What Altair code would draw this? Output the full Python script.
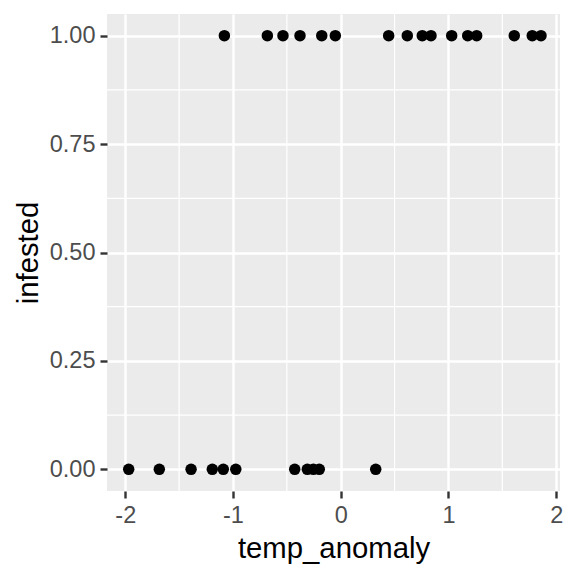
import altair as alt
import pandas as pd

temp_anomaly = [-1.080, -0.681, -0.536, -0.378, -0.176, -0.050, 0.445, 0.618, 0.757, 0.838,
                1.030, 1.179, 1.262, 1.611, 1.778, 1.859,
                -1.968, -1.684, -1.389, -1.192, -1.090, -0.974, -0.427, -0.310, -0.254, -0.199, 0.325]
infested = [1] * 16 + [0] * 11

x_major = [-2, -1, 0, 1, 2]
x_minor = [-1.5, -0.5, 0.5, 1.5]
y_major = [0, 0.25, 0.5, 0.75, 1.0]
y_minor = [0.125, 0.375, 0.625, 0.875]

df = pd.DataFrame({"temp_anomaly": temp_anomaly, "infested": infested})
xmin_df = pd.DataFrame({"temp_anomaly": x_minor})
ymin_df = pd.DataFrame({"infested": y_minor})

FONT = "Liberation Sans"
xscale = alt.Scale(domain=[-2.1695, 2.0355], nice=False, zero=False)
yscale = alt.Scale(domain=[-0.05, 1.05], nice=False, zero=False)
xaxis = alt.Axis(values=x_major, labelExpr="'' + datum.value")
yaxis = alt.Axis(values=y_major, format=".2f")

xminor = alt.Chart(xmin_df).mark_rule(color="white", strokeWidth=1.2).encode(
    x=alt.X("temp_anomaly:Q", scale=xscale, title="temp_anomaly", axis=xaxis)
)
yminor = alt.Chart(ymin_df).mark_rule(color="white", strokeWidth=1.2).encode(
    y=alt.Y("infested:Q", scale=yscale, title="infested", axis=yaxis)
)

points = alt.Chart(df).mark_circle(size=132, color="black", opacity=1).encode(
    x=alt.X("temp_anomaly:Q", scale=xscale, title="temp_anomaly", axis=xaxis),
    y=alt.Y("infested:Q", scale=yscale, title="infested", axis=yaxis),
)

chart = alt.layer(xminor, yminor, points).properties(
    width=453, height=477,
    autosize=alt.AutoSizeParams(type="none"),
    padding={"left": 99, "top": 6, "right": 8, "bottom": 77},
    background="white",
).configure_view(
    fill="#EBEBEB", stroke=None
).configure_axis(
    grid=True, gridColor="white", gridWidth=2.4,
    domain=False,
    tickColor="#333333", tickWidth=2.4, tickSize=7,
    labelColor="#4D4D4D", labelFont=FONT, labelFontSize=23.5, labelPadding=5,
    titleColor="black", titleFont=FONT, titleFontSize=29.3, titleFontWeight="normal",
).configure_axisX(
    titlePadding=8
).configure_axisY(
    titlePadding=6
)

chart.save("out.html", embed_options={"renderer": "svg", "actions": False})
